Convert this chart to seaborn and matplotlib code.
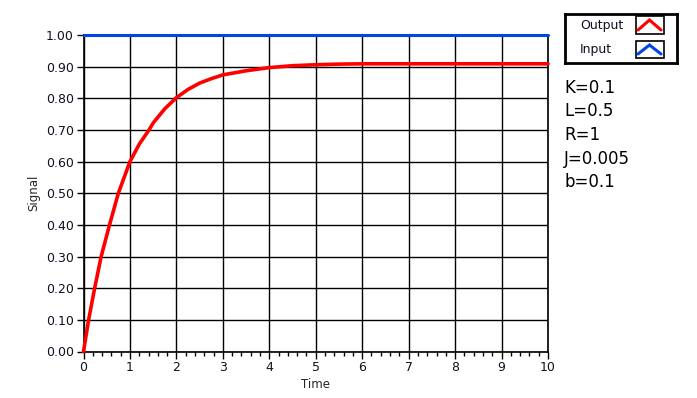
import matplotlib
matplotlib.use("Agg")
import matplotlib.pyplot as plt
import seaborn as sns
import pandas as pd
from matplotlib.ticker import MultipleLocator

# ---- data ----
time_out = [0, 0.11, 0.24, 0.38, 0.56, 0.75, 1.0, 1.2, 1.41, 1.5, 1.75, 2.0, 2.25,
            2.5, 2.75, 3.0, 3.5, 4.0, 4.5, 5.0, 5.5, 6.0, 7.0, 8.0, 9.0, 10.0]
signal_out = [0, 0.10, 0.20, 0.30, 0.40, 0.50, 0.60, 0.655, 0.70, 0.722, 0.767, 0.802, 0.828,
              0.848, 0.862, 0.874, 0.887, 0.897, 0.903, 0.906, 0.908, 0.909, 0.909, 0.909, 0.909, 0.909]
time_in = [0, 10]
signal_in = [1.0, 1.0]
series_names = ["Output", "Input"]
series_colors = ["#ff0000", "#0046e6"]
params = ["K=0.1", "L=0.5", "R=1", "J=0.005", "b=0.1"]
x_ticks = list(range(0, 11))
y_ticks = [round(0.1 * i, 2) for i in range(11)]

df = pd.concat([
    pd.DataFrame({"Time": time_out, "Signal": signal_out, "series": "Output"}),
    pd.DataFrame({"Time": time_in, "Signal": signal_in, "series": "Input"}),
])

sns.set_style("white")
plt.rcParams['font.family'] = ['DejaVu Sans']

W, H = 697, 398
fig = plt.figure(figsize=(W / 100, H / 100), dpi=100)
ax = fig.add_axes([83.5 / W, 1 - 351.5 / H, (548 - 83.5) / W, (351.5 - 35) / H])

sns.lineplot(data=df[df.series == "Output"], x="Time", y="Signal", ax=ax,
             color=series_colors[0], linewidth=2.6, estimator=None, sort=False, zorder=5)
sns.lineplot(data=df[df.series == "Input"], x="Time", y="Signal", ax=ax,
             color=series_colors[1], linewidth=2.2, estimator=None, sort=False, zorder=6)
for ln in ax.lines:
    ln.set_clip_on(False)

ax.set_xlim(0, 10)
ax.set_ylim(0, 1)
ax.set_xticks(x_ticks)
ax.set_yticks(y_ticks)
ax.set_yticklabels([f"{v:.2f}" for v in y_ticks])
ax.xaxis.set_minor_locator(MultipleLocator(0.2))
ax.grid(True, which="major", color="black", linewidth=1.0)
ax.set_axisbelow(True)
for s in ax.spines.values():
    s.set_color("black")
    s.set_linewidth(1.2)
ax.tick_params(axis="both", which="major", direction="out", length=5, width=1,
               color="black", labelsize=9, labelcolor="#101020", pad=2, left=True, bottom=True)
ax.tick_params(axis="x", which="minor", direction="out", length=3, width=1,
               color="black", bottom=True)
ax.set_xlabel("Time", fontsize=8.5, labelpad=3)
ax.set_ylabel("Signal", fontsize=8.5, labelpad=4)
leg = ax.get_legend()
if leg:
    leg.remove()

# ---- legend box (LabVIEW style) ----
lx0, ly0, lx1, ly1 = 565, 14, 677, 63
lax = fig.add_axes([lx0 / W, 1 - ly1 / H, (lx1 - lx0) / W, (ly1 - ly0) / H])
lax.set_xlim(lx0, lx1)
lax.set_ylim(ly1, ly0)
lax.set_xticks([])
lax.set_yticks([])
for s in lax.spines.values():
    s.set_color("black")
    s.set_linewidth(2)
rows = [(16, 34), (41, 58)]
for name, col, (ya, yb) in zip(series_names, series_colors, rows):
    lax.add_patch(plt.Rectangle((635.5, ya), 28.5, yb - ya, fill=False,
                                edgecolor="black", linewidth=1.2))
    lax.plot([638, 649.5, 661], [yb - 4, ya + 4, yb - 4], color=col, linewidth=2.2,
             solid_joinstyle="miter")
    lax.text(580, (ya + yb) / 2, name, fontsize=9, va="center", ha="left", color="#101020")

# ---- parameter text ----
for i, p in enumerate(params):
    fig.text(564 / W, 1 - (88 + 23.5 * i) / H, p, fontsize=12, va="center", ha="left",
             color="black")

fig.savefig("out.png", dpi=100)
